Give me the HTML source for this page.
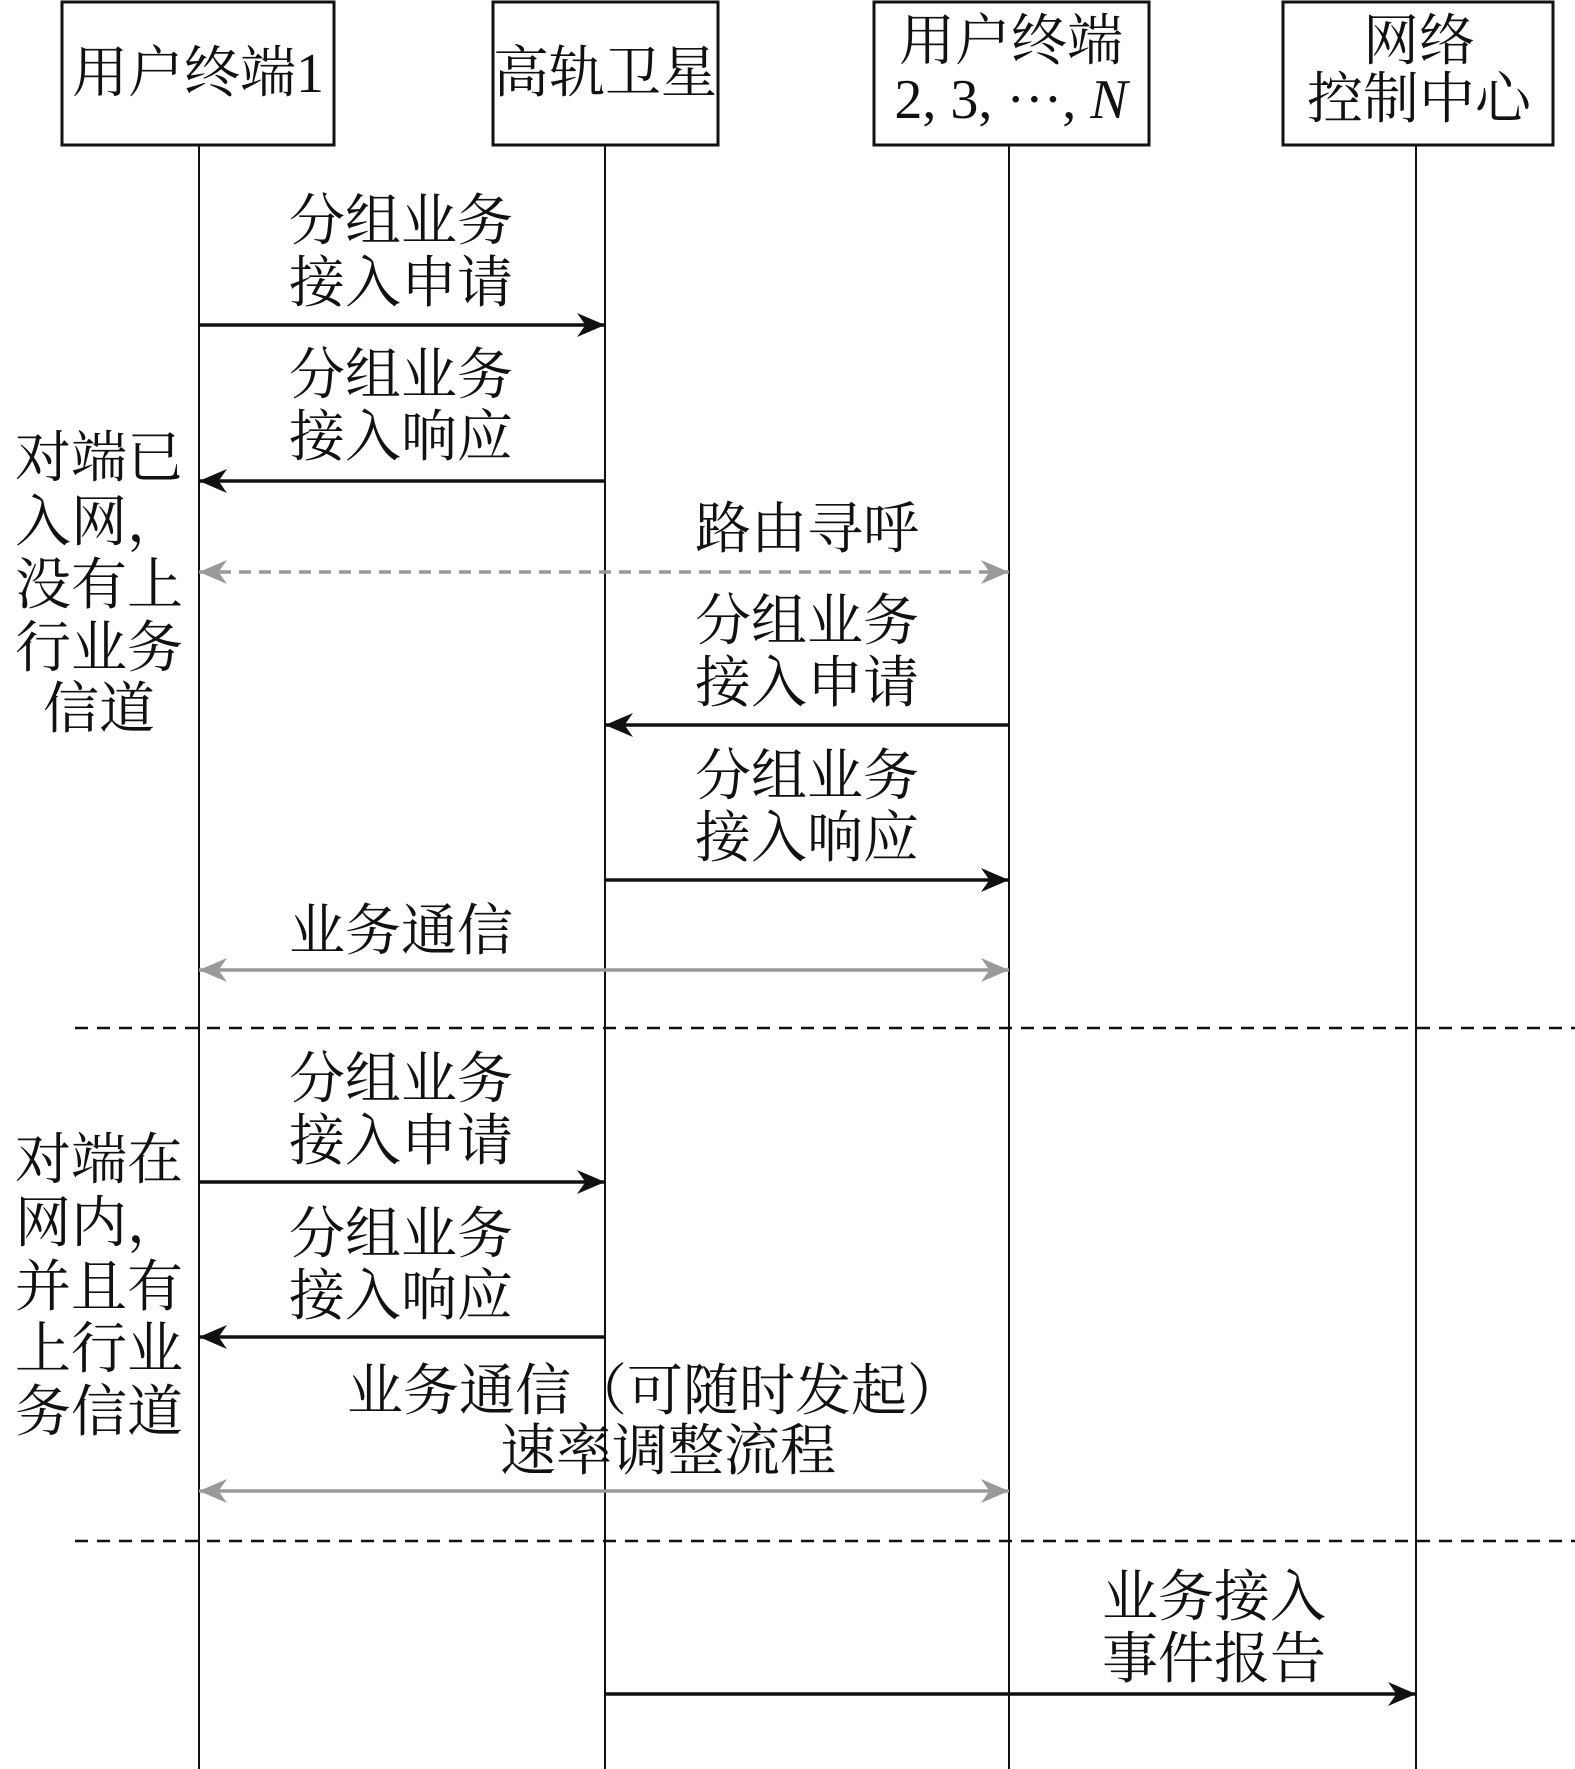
<!DOCTYPE html>
<html><head><meta charset="utf-8"><style>
html,body{margin:0;padding:0;background:#fff;}
svg{display:block;}
text{font-family:"Liberation Serif","Noto Serif CJK SC",serif;font-size:56px;fill:#111;text-anchor:middle;}
</style></head><body>
<svg width="1575" height="1769" viewBox="0 0 1575 1769" xmlns="http://www.w3.org/2000/svg">
<defs>
<marker id="ab" viewBox="0 0 10 10" refX="10" refY="5" markerWidth="28" markerHeight="24" markerUnits="userSpaceOnUse" orient="auto-start-reverse" preserveAspectRatio="none"><path d="M0,0 L10,5 L0,10 L3,5 Z" fill="#111"/></marker>
<marker id="ag" viewBox="0 0 10 10" refX="10" refY="5" markerWidth="28" markerHeight="24" markerUnits="userSpaceOnUse" orient="auto-start-reverse" preserveAspectRatio="none"><path d="M0,0 L10,5 L0,10 L3,5 Z" fill="#999"/></marker>
</defs>
<g fill="#fff" stroke="#111" stroke-width="3">
<rect x="62" y="2" width="272" height="143"/>
<rect x="493" y="2" width="225" height="143"/>
<rect x="874" y="2" width="275" height="143"/>
<rect x="1283" y="2" width="270" height="143"/>
</g>
<g stroke="#111" stroke-width="2">
<line x1="199" y1="145" x2="199" y2="1769"/>
<line x1="605" y1="145" x2="605" y2="1769"/>
<line x1="1009" y1="145" x2="1009" y2="1769"/>
<line x1="1416" y1="145" x2="1416" y2="1769"/>
</g>
<text x="198" y="92">用户终端1</text>
<text x="605" y="92">高轨卫星</text>
<text x="1011" y="60">用户终端</text>
<text x="1011" y="118">2, 3, ···, <tspan font-style="italic">N</tspan></text>
<text x="1419" y="60">网络</text>
<text x="1419" y="118">控制中心</text>
<g stroke="#111" stroke-width="2.5" stroke-dasharray="13,9">
<line x1="75" y1="1028" x2="1575" y2="1028"/>
<line x1="75" y1="1541" x2="1575" y2="1541"/>
</g>
<g stroke="#111" stroke-width="3.5" fill="none">
<line x1="199" y1="325" x2="605" y2="325" marker-end="url(#ab)"/>
<line x1="605" y1="481" x2="199" y2="481" marker-end="url(#ab)"/>
<line x1="1009" y1="725" x2="605" y2="725" marker-end="url(#ab)"/>
<line x1="605" y1="880" x2="1009" y2="880" marker-end="url(#ab)"/>
<line x1="199" y1="1182" x2="605" y2="1182" marker-end="url(#ab)"/>
<line x1="605" y1="1337" x2="199" y2="1337" marker-end="url(#ab)"/>
<line x1="605" y1="1694" x2="1416" y2="1694" marker-end="url(#ab)"/>
</g>
<g stroke="#999" stroke-width="3.5" fill="none">
<line x1="199" y1="572" x2="1009" y2="572" stroke-dasharray="12,8" marker-start="url(#ag)" marker-end="url(#ag)"/>
<line x1="199" y1="970" x2="1009" y2="970" marker-start="url(#ag)" marker-end="url(#ag)"/>
<line x1="199" y1="1491" x2="1009" y2="1491" marker-start="url(#ag)" marker-end="url(#ag)"/>
</g>
<text x="401" y="240">分组业务</text>
<text x="401" y="302">接入申请</text>
<text x="401" y="394">分组业务</text>
<text x="401" y="456">接入响应</text>
<text x="807" y="548">路由寻呼</text>
<text x="807" y="640">分组业务</text>
<text x="807" y="702">接入申请</text>
<text x="807" y="795">分组业务</text>
<text x="807" y="857">接入响应</text>
<text x="401" y="950">业务通信</text>
<text x="401" y="1098">分组业务</text>
<text x="401" y="1160">接入申请</text>
<text x="401" y="1253">分组业务</text>
<text x="401" y="1315">接入响应</text>
<text x="655" y="1410">业务通信（可随时发起）</text>
<text x="668" y="1470">速率调整流程</text>
<text x="1214" y="1616">业务接入</text>
<text x="1214" y="1678">事件报告</text>
<text x="99" y="477">对端已</text>
<text x="99" y="541">入网，</text>
<text x="99" y="604">没有上</text>
<text x="99" y="667">行业务</text>
<text x="99" y="728">信道</text>
<text x="99" y="1179">对端在</text>
<text x="99" y="1242">网内，</text>
<text x="99" y="1306">并且有</text>
<text x="99" y="1368">上行业</text>
<text x="99" y="1431">务信道</text>
</svg>
</body></html>
